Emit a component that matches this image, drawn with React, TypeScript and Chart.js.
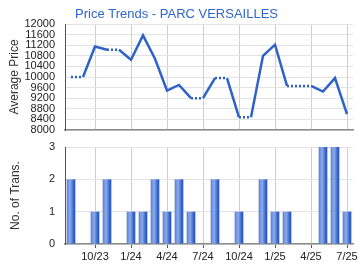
import React, { useEffect, useRef } from "react";
import { Chart, registerables } from "chart.js";

Chart.register(...registerables);

const months = [
  "8/23", "9/23", "10/23", "11/23", "12/23", "1/24", "2/24", "3/24", "4/24", "5/24", "6/24", "7/24",
  "8/24", "9/24", "10/24", "11/24", "12/24", "1/25", "2/25", "3/25", "4/25", "5/25", "6/25", "7/25",
];
const avgPrice = [
  10000, 10000, 11150, 11030, 11030, 10650, 11570, 10690, 9490, 9700, 9200, 9200,
  9960, 9960, 8480, 8480, 10800, 11220, 9665, 9665, 9665, 9450, 9960, 8600,
];
const transactions = [2, 0, 1, 2, 0, 1, 1, 2, 1, 2, 1, 0, 2, 0, 1, 0, 2, 1, 1, 0, 0, 3, 3, 1];
const priceTicks = [8000, 8400, 8800, 9200, 9600, 10000, 10400, 10800, 11200, 11600, 12000];
const transTicks = [0, 1, 2, 3];

const FONT = 'Arial, "Liberation Sans", sans-serif';
const BLUE = "#2e62c9";
const isQuarter = (i: number) => i % 3 === 2;

const zeroPad = (s: any) => {
  s.paddingTop = 0;
  s.paddingBottom = 0;
  s.paddingLeft = 0;
  s.paddingRight = 0;
};

export default function App() {
  const topRef = useRef<HTMLCanvasElement>(null);
  const botRef = useRef<HTMLCanvasElement>(null);

  useEffect(() => {
    const top = new Chart(topRef.current!, {
      type: "line",
      data: {
        labels: months,
        datasets: [
          {
            data: avgPrice,
            borderColor: BLUE,
            borderWidth: 2.5,
            pointRadius: 0,
            tension: 0,
            fill: false,
            segment: {
              borderDash: (ctx: any) => (transactions[ctx.p1DataIndex] === 0 ? [2, 2] : undefined),
            },
          },
        ],
      },
      options: {
        responsive: false,
        animation: false,
        layout: { padding: { left: 0, right: 7, top: 0, bottom: 7 } },
        plugins: {
          legend: { display: false },
          tooltip: { enabled: false },
          title: {
            display: true,
            text: "Price Trends - PARC VERSAILLES",
            color: "#2f66cc",
            font: { family: FONT, size: 13, weight: "normal" },
            padding: { top: 7, bottom: 1.4 },
          },
        },
        scales: {
          x: {
            type: "category",
            offset: true,
            ticks: { display: false },
            grid: {
              offset: false,
              drawTicks: false,
              color: (ctx: any) => (isQuarter(ctx.index) ? "#cfcfcf" : "rgba(0,0,0,0)"),
            },
            border: { display: true, color: "#8a8a8a", width: 1.5 },
            afterFit: (s: any) => {
              s.height = 0;
              zeroPad(s);
            },
          },
          y: {
            min: 8000,
            max: 12000,
            afterBuildTicks: (s: any) => {
              s.ticks = priceTicks.map((v) => ({ value: v }));
            },
            ticks: {
              autoSkip: false,
              color: "#222",
              font: { family: FONT, size: 11 },
              padding: 10,
              callback: (v: any) => String(v),
            },
            grid: { color: "#e2e2e2", drawTicks: false },
            border: { display: true, color: "#555", width: 1 },
            title: {
              display: true,
              text: "Average Price",
              color: "#333",
              font: { family: FONT, size: 12 },
              padding: { top: 7, bottom: 0 },
            },
            afterFit: (s: any) => {
              s.width = 65;
              zeroPad(s);
            },
          },
        },
      },
    } as any);

    const bot = new Chart(botRef.current!, {
      type: "bar",
      data: {
        labels: months,
        datasets: [
          {
            data: transactions,
            barPercentage: 0.72,
            categoryPercentage: 1,
            borderWidth: 0,
            backgroundColor: (ctx: any) => {
              const chart = ctx.chart;
              const area = chart.chartArea;
              if (!area) return "#5b80d6";
              const x = chart.scales.x.getPixelForValue(ctx.dataIndex);
              const w = (area.width / months.length) * 0.72;
              const g = chart.ctx.createLinearGradient(x - w / 2, 0, x + w / 2, 0);
              g.addColorStop(0, "#4a72cc");
              g.addColorStop(0.12, "#6c90dc");
              g.addColorStop(0.4, "#8eabea");
              g.addColorStop(0.75, "#3f6ad0");
              g.addColorStop(1, "#1f4fbf");
              return g;
            },
          },
        ],
      },
      options: {
        responsive: false,
        animation: false,
        layout: { padding: { left: 0, right: 7, top: 12, bottom: 0 } },
        plugins: {
          legend: { display: false },
          tooltip: { enabled: false },
        },
        scales: {
          x: {
            type: "category",
            offset: true,
            ticks: {
              autoSkip: false,
              maxRotation: 0,
              color: "#222",
              font: { family: FONT, size: 11 },
              padding: 2,
              callback: (_v: any, i: number) => (isQuarter(i) ? months[i] : ""),
            },
            grid: {
              offset: false,
              drawTicks: true,
              tickLength: 4,
              color: (ctx: any) => (isQuarter(ctx.index) ? "#cfcfcf" : "rgba(0,0,0,0)"),
              tickColor: (ctx: any) => (isQuarter(ctx.index) ? "#555" : "rgba(0,0,0,0)"),
            },
            border: { display: true, color: "#8a8a8a", width: 1.5 },
            afterFit: (s: any) => {
              s.height = 26;
              zeroPad(s);
            },
          },
          y: {
            min: 0,
            max: 3,
            afterBuildTicks: (s: any) => {
              s.ticks = transTicks.map((v) => ({ value: v }));
            },
            ticks: {
              autoSkip: false,
              color: "#222",
              font: { family: FONT, size: 11 },
              padding: 10,
              callback: (v: any) => String(v),
            },
            grid: { color: "#e2e2e2", drawTicks: false },
            border: { display: true, color: "#555", width: 1 },
            title: {
              display: true,
              text: "No. of Trans.",
              color: "#333",
              font: { family: FONT, size: 12 },
              padding: { top: 8, bottom: 0 },
            },
            afterFit: (s: any) => {
              s.width = 65;
              zeroPad(s);
            },
          },
        },
      },
    } as any);

    return () => {
      top.destroy();
      bot.destroy();
    };
  }, []);

  return (
    <div style={{ position: "absolute", left: 0, top: 0, width: 360, height: 270, background: "#fff" }}>
      <canvas
        ref={topRef}
        width={360}
        height={137}
        style={{ position: "absolute", left: 0, top: 0, width: 360, height: 137 }}
      />
      <canvas
        ref={botRef}
        width={360}
        height={135}
        style={{ position: "absolute", left: 0, top: 135, width: 360, height: 135 }}
      />
    </div>
  );
}
